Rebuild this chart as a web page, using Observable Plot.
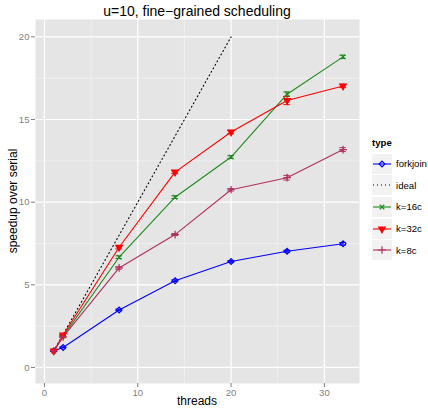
<!DOCTYPE html>
<html>
<head>
<meta charset="utf-8">
<script src="https://cdn.jsdelivr.net/npm/d3@7"></script>
<script src="https://cdn.jsdelivr.net/npm/@observablehq/plot@0.6"></script>
<style>
  html, body { margin: 0; padding: 0; background: #fff; }
  #wrap { position: relative; width: 428px; height: 409px; font-family: "Liberation Sans", Arial, Helvetica, sans-serif; }
  #title { position: absolute; left: 35px; width: 324px; top: 3px; text-align: center; font-size: 14px; color: #000; }
  #xlab { position: absolute; left: 35px; width: 324px; top: 394px; text-align: center; font-size: 12px; color: #000; }
  #ylab { position: absolute; left: 13px; top: 201px; transform: translate(-50%, -50%) rotate(-90deg); white-space: nowrap; font-size: 12px; color: #000; }
  #legend { position: absolute; left: 372px; top: 137px; font-size: 9.6px; color: #000; }
  #legend .lt { font-weight: bold; font-size: 9.6px; margin-bottom: 5px; }
  #legend .row { display: flex; align-items: center; height: 21.6px; }
  #legend svg { display: block; margin-right: 4px; }
</style>
</head>
<body>
<div id="wrap">
  <div id="chart"></div>
  <div id="title">u=10, fine−grained scheduling</div>
  <div id="xlab">threads</div>
  <div id="ylab">speedup over serial</div>
  <div id="legend"></div>
</div>
<script>
// ---- data ----
const threads = [1, 2, 8, 14, 20, 26, 32];
const types = ["forkjoin", "ideal", "k=16c", "k=32c", "k=8c"];
const forkjoin = [1.0, 1.21, 3.48, 5.25, 6.41, 7.03, 7.48];
const k16c = [1.0, 1.9, 6.67, 10.3, 12.73, 16.53, 18.79];
const k32c = [1.0, 1.96, 7.27, 11.82, 14.24, 16.15, 17.03];
const k8c = [1.0, 1.85, 6.02, 8.04, 10.75, 11.48, 13.18];
const forkjoinErr = [0.02, 0.03, 0.05, 0.05, 0.05, 0.06, 0.08];
const k16cErr = [0.02, 0.04, 0.08, 0.08, 0.08, 0.14, 0.1];
const k32cErr = [0.02, 0.04, 0.1, 0.08, 0.1, 0.25, 0.1];
const k8cErr = [0.02, 0.04, 0.08, 0.06, 0.08, 0.14, 0.12];
const idealThreads = [1, 2, 8, 14, 20];
const idealSpeedup = [1, 2, 8, 14, 20];
const xTicks = [0, 10, 20, 30];
const yTicks = [0, 5, 10, 15, 20];
const xMinor = [5, 15, 25];
const yMinor = [2.5, 7.5, 12.5, 17.5];
const colors = ["#0000FF", "#000000", "#1E8B1E", "#FF0000", "#B03060"];

// ---- table ----
const seriesVals = {"forkjoin": [forkjoin, forkjoinErr], "k=16c": [k16c, k16cErr], "k=32c": [k32c, k32cErr], "k=8c": [k8c, k8cErr]};
const rows = [];
for (const [type, [vals, errs]] of Object.entries(seriesVals)) {
  threads.forEach((t, i) => rows.push({type, threads: t, speedup: vals[i], err: errs[i]}));
}
const idealRows = idealThreads.map((t, i) => ({type: "ideal", threads: t, speedup: idealSpeedup[i]}));

const triangleDown = {
  draw(ctx, size) {
    const s3 = Math.sqrt(3);
    const y = -Math.sqrt(size / (s3 * 3));
    ctx.moveTo(0, -y * 2);
    ctx.lineTo(-s3 * y, y);
    ctx.lineTo(s3 * y, y);
    ctx.closePath();
  }
};
const markR = {"forkjoin": 2.6, "k=16c": 2.2, "k=32c": 2.4, "k=8c": 2.6};
const capW = 0.35;

const chart = Plot.plot({
  width: 428,
  height: 409,
  marginLeft: 35,
  marginRight: 69,
  marginTop: 19,
  marginBottom: 26,
  style: {fontFamily: "'Liberation Sans', Arial, sans-serif", fontSize: "9.6px", background: "transparent", overflow: "visible"},
  x: {domain: [-0.96, 33.76]},
  y: {domain: [-0.97, 21.05]},
  color: {domain: types, range: colors},
  symbol: {domain: ["forkjoin", "k=16c", "k=32c", "k=8c"], range: ["diamond2", "times", triangleDown, "plus"]},
  marks: [
    Plot.frame({fill: "#E5E5E5", stroke: null}),
    Plot.ruleY(yMinor, {stroke: "#F2F2F2", strokeWidth: 0.7}),
    Plot.ruleX(xMinor, {stroke: "#F2F2F2", strokeWidth: 0.7}),
    Plot.ruleY(yTicks, {stroke: "#FFFFFF", strokeWidth: 1.2}),
    Plot.ruleX(xTicks, {stroke: "#FFFFFF", strokeWidth: 1.2}),
    Plot.axisX({ticks: xTicks, tickSize: 4, tickPadding: 2, label: null, color: "#7F7F7F", fontSize: 9.6}),
    Plot.axisY({ticks: yTicks, tickSize: 4, tickPadding: 2, label: null, color: "#7F7F7F", fontSize: 9.6}),
    Plot.line(idealRows, {x: "threads", y: "speedup", stroke: "type", strokeWidth: 1.1, strokeDasharray: "1,3"}),
    Plot.line(rows, {x: "threads", y: "speedup", z: "type", stroke: "type", strokeWidth: 1.1}),
    Plot.ruleX(rows, {x: "threads", y1: d => d.speedup - d.err, y2: d => d.speedup + d.err, stroke: "type", strokeWidth: 1}),
    Plot.ruleY(rows, {y: d => d.speedup - d.err, x1: d => d.threads - capW, x2: d => d.threads + capW, stroke: "type", strokeWidth: 1}),
    Plot.ruleY(rows, {y: d => d.speedup + d.err, x1: d => d.threads - capW, x2: d => d.threads + capW, stroke: "type", strokeWidth: 1}),
    ...Object.keys(seriesVals).map(type =>
      Plot.dot(rows.filter(d => d.type === type), {
        x: "threads", y: "speedup",
        stroke: "type",
        fill: type === "k=32c" ? "type" : "none",
        symbol: "type",
        r: markR[type],
        strokeWidth: 1.2
      })
    )
  ]
});
document.getElementById("chart").appendChild(chart);

// ---- legend ----
const leg = document.getElementById("legend");
const lt = document.createElement("div");
lt.className = "lt"; lt.textContent = "type";
leg.appendChild(lt);
const legSym = {"forkjoin": [d3.symbolDiamond2, false], "ideal": null, "k=16c": [d3.symbolTimes, false], "k=32c": [triangleDown, true], "k=8c": [d3.symbolPlus, false]};
types.forEach((t, i) => {
  const row = document.createElement("div");
  row.className = "row";
  const c = colors[i];
  let inner = `<rect width="20" height="20" fill="#F2F2F2"/>`;
  if (t === "ideal") {
    inner += `<line x1="1" x2="19" y1="10" y2="10" stroke="${c}" stroke-width="1.1" stroke-dasharray="1,3"/>`;
  } else {
    inner += `<line x1="1" x2="19" y1="10" y2="10" stroke="${c}" stroke-width="1.1"/>`;
    const [sym, filled] = legSym[t];
    const r = markR[t];
    const p = d3.symbol(sym, Math.PI * r * r)();
    inner += `<path transform="translate(10,10)" d="${p}" fill="${filled ? c : "none"}" stroke="${c}" stroke-width="1.2"/>`;
  }
  row.innerHTML = `<svg width="20" height="20">${inner}</svg><span>${t}</span>`;
  leg.appendChild(row);
});
</script>
</body>
</html>
